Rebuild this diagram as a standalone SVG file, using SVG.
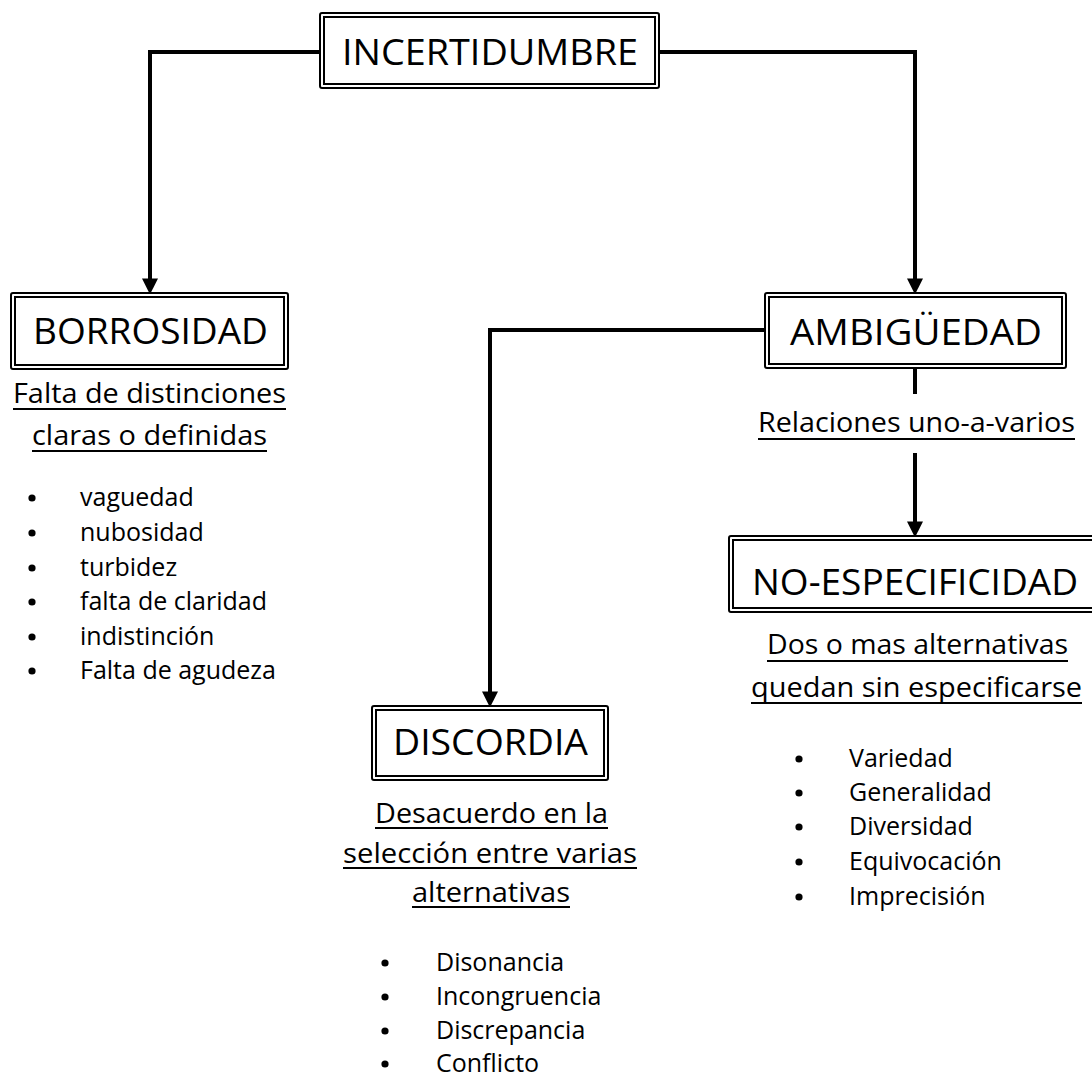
<svg xmlns="http://www.w3.org/2000/svg" width="1092" height="1079" viewBox="0 0 1092 1079">
<style>
  text { font-family: "Open Sans", "Noto Sans", sans-serif; fill: #000; }
  .title { font-size: 37px; text-anchor: middle; }
  .sub { font-size: 28px; text-anchor: middle; }
  .item { font-size: 25px; }
  .dot { fill: #000; }
  .box { fill: #fff; stroke: #000; stroke-width: 2; }
  .ul { stroke: #000; stroke-width: 2; }
  .conn { fill: none; stroke: #000; stroke-width: 4; }
</style>
<defs>
  <marker id="arrow" markerUnits="userSpaceOnUse" markerWidth="16" markerHeight="16" viewBox="0 0 14 14" refX="4" refY="7" orient="auto">
    <path d="M0,0 L14,7 L0,14 z" fill="#000"/>
  </marker>
</defs>
<rect width="1092" height="1079" fill="#fff"/>

<g id="connectors">
  <path class="conn" d="M320,52 H150 V283" marker-end="url(#arrow)"/>
  <path class="conn" d="M659,52 H915 V283" marker-end="url(#arrow)"/>
  <path class="conn" d="M765,330 H490 V696" marker-end="url(#arrow)"/>
  <path class="conn" d="M915,368 V394"/>
  <path class="conn" d="M915,453 V526" marker-end="url(#arrow)"/>
</g>

<g id="incertidumbre">
  <rect class="box" x="320" y="13" width="339" height="75" rx="2"/>
  <rect class="box" x="324" y="17" width="331" height="67"/>
  <text class="title" x="490" y="65" textLength="296" lengthAdjust="spacingAndGlyphs">INCERTIDUMBRE</text>
</g>

<g id="borrosidad">
  <rect class="box" x="11" y="293" width="277" height="76" rx="2"/>
  <rect class="box" x="15" y="297" width="269" height="68"/>
  <text class="title" x="150.5" y="344" textLength="235" lengthAdjust="spacingAndGlyphs">BORROSIDAD</text>
  <text class="sub" x="149.5" y="403" textLength="273" lengthAdjust="spacingAndGlyphs">Falta de distinciones</text>
  <line class="ul" x1="13" y1="409" x2="286" y2="409"/>
  <text class="sub" x="149.5" y="445" textLength="235" lengthAdjust="spacingAndGlyphs">claras o definidas</text>
  <line class="ul" x1="32" y1="451" x2="267" y2="451"/>
  <g>
    <circle class="dot" cx="32" cy="498" r="3.6"/><text class="item" x="80" y="506">vaguedad</text>
    <circle class="dot" cx="32" cy="533" r="3.6"/><text class="item" x="80" y="541">nubosidad</text>
    <circle class="dot" cx="32" cy="568" r="3.6"/><text class="item" x="80" y="576">turbidez</text>
    <circle class="dot" cx="32" cy="602" r="3.6"/><text class="item" x="80" y="610">falta de claridad</text>
    <circle class="dot" cx="32" cy="637" r="3.6"/><text class="item" x="80" y="645">indistinción</text>
    <circle class="dot" cx="32" cy="671" r="3.6"/><text class="item" x="80" y="679">Falta de agudeza</text>
  </g>
</g>

<g id="ambiguedad">
  <rect class="box" x="765" y="293" width="301" height="75" rx="2"/>
  <rect class="box" x="769" y="297" width="293" height="67"/>
  <text class="title" x="916" y="345" textLength="252" lengthAdjust="spacingAndGlyphs">AMBIGÜEDAD</text>
</g>

<g id="relaciones-label">
  <text class="sub" x="916.5" y="432" textLength="317" lengthAdjust="spacingAndGlyphs">Relaciones uno-a-varios</text>
  <line class="ul" x1="758" y1="439" x2="1075" y2="439"/>
</g>

<g id="no-especificidad">
  <rect class="box" x="729" y="536" width="372" height="76" rx="2"/>
  <rect class="box" x="733" y="540" width="364" height="68"/>
  <text class="title" x="915" y="595" textLength="326" lengthAdjust="spacingAndGlyphs">NO-ESPECIFICIDAD</text>
  <text class="sub" x="917.5" y="654" textLength="301" lengthAdjust="spacingAndGlyphs">Dos o mas alternativas</text>
  <line class="ul" x1="767" y1="661" x2="1068" y2="661"/>
  <text class="sub" x="916.5" y="697" textLength="331" lengthAdjust="spacingAndGlyphs">quedan sin especificarse</text>
  <line class="ul" x1="751" y1="703" x2="1082" y2="703"/>
  <g>
    <circle class="dot" cx="799" cy="759" r="3.6"/><text class="item" x="849" y="767">Variedad</text>
    <circle class="dot" cx="799" cy="793" r="3.6"/><text class="item" x="849" y="801">Generalidad</text>
    <circle class="dot" cx="799" cy="827" r="3.6"/><text class="item" x="849" y="835">Diversidad</text>
    <circle class="dot" cx="799" cy="862" r="3.6"/><text class="item" x="849" y="870">Equivocación</text>
    <circle class="dot" cx="799" cy="897" r="3.6"/><text class="item" x="849" y="905">Imprecisión</text>
  </g>
</g>

<g id="discordia">
  <rect class="box" x="372" y="706" width="236" height="74" rx="2"/>
  <rect class="box" x="376" y="710" width="228" height="66"/>
  <text class="title" x="490.5" y="755" textLength="195" lengthAdjust="spacingAndGlyphs">DISCORDIA</text>
  <text class="sub" x="491.5" y="823" textLength="233" lengthAdjust="spacingAndGlyphs">Desacuerdo en la</text>
  <line class="ul" x1="375" y1="828" x2="608" y2="828"/>
  <text class="sub" x="490" y="863" textLength="294" lengthAdjust="spacingAndGlyphs">selección entre varias</text>
  <line class="ul" x1="343" y1="868" x2="637" y2="868"/>
  <text class="sub" x="491" y="902" textLength="158" lengthAdjust="spacingAndGlyphs">alternativas</text>
  <line class="ul" x1="412" y1="907" x2="570" y2="907"/>
  <g>
    <circle class="dot" cx="385" cy="963" r="3.6"/><text class="item" x="436" y="971">Disonancia</text>
    <circle class="dot" cx="385" cy="997" r="3.6"/><text class="item" x="436" y="1005">Incongruencia</text>
    <circle class="dot" cx="385" cy="1031" r="3.6"/><text class="item" x="436" y="1039">Discrepancia</text>
    <circle class="dot" cx="385" cy="1064" r="3.6"/><text class="item" x="436" y="1072">Conflicto</text>
  </g>
</g>
</svg>
